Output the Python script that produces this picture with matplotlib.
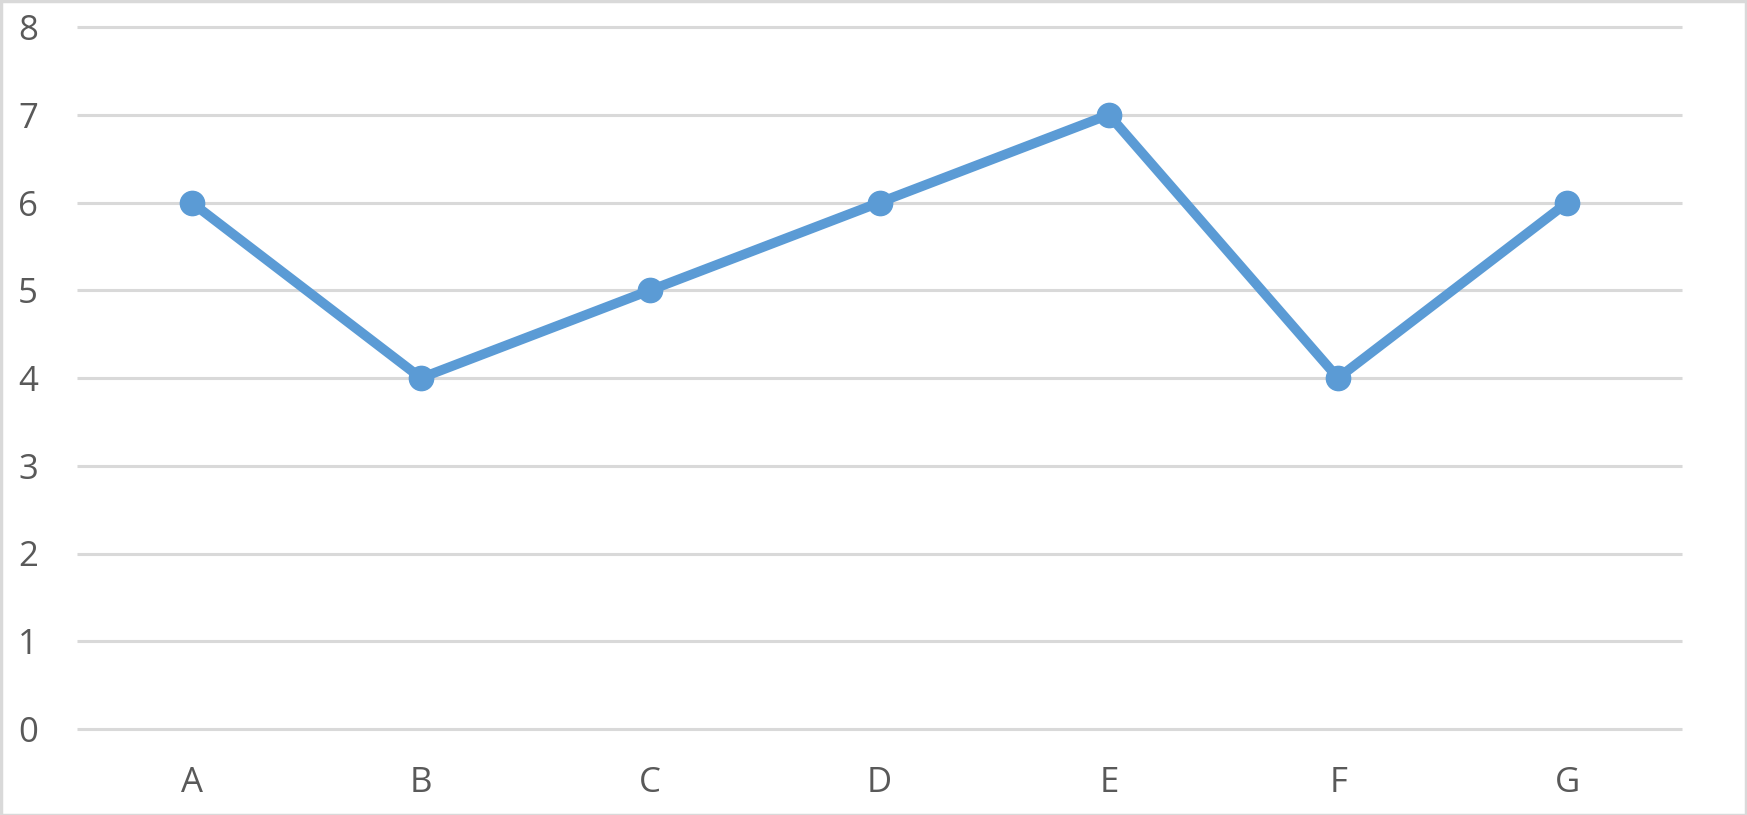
import matplotlib
matplotlib.use("Agg")
import matplotlib.pyplot as plt
from matplotlib.patches import Rectangle

categories = ["A", "B", "C", "D", "E", "F", "G"]
values = [6, 4, 5, 6, 7, 4, 6]
yticks = [0, 1, 2, 3, 4, 5, 6, 7, 8]

W, H = 1747, 815
fig = plt.figure(figsize=(W / 100, H / 100), dpi=100)
fig.patch.set_facecolor("white")
ax = fig.add_axes([77 / W, 1 - 729 / H, (1682 - 77) / W, (729 - 27) / H])

x = list(range(len(categories)))
ax.plot(x, values, color="#5b9bd5", linewidth=7, marker="o", markersize=17.5,
        solid_capstyle="round", zorder=3, clip_on=False)

ax.set_xlim(-0.5, len(categories) - 0.5)
ax.set_ylim(0, 8)
ax.set_yticks(yticks)
ax.set_yticklabels([str(v) for v in yticks])
ax.set_xticks(x)
ax.set_xticklabels(categories)
for s in ax.spines.values():
    s.set_visible(False)
ax.grid(axis="y", color="#d9d9d9", linewidth=2.2, zorder=0)
for gl in ax.get_ygridlines():
    gl.set_clip_on(False)
    gl.set_solid_capstyle("butt")
ax.set_axisbelow(True)
ax.tick_params(axis="both", length=0, labelsize=25, colors="#595959")
ax.tick_params(axis="y", pad=28)
ax.tick_params(axis="x", pad=27)
for lab in ax.get_xticklabels() + ax.get_yticklabels():
    lab.set_fontfamily("Open Sans")

fig.patches.append(Rectangle((0.5 / W, 0.5 / H), 1 - 1.5 / W, 1 - 1.5 / H,
                             transform=fig.transFigure, fill=False,
                             edgecolor="#d9d9d9", linewidth=2.5))

fig.savefig("out.png", dpi=100, facecolor="white")
